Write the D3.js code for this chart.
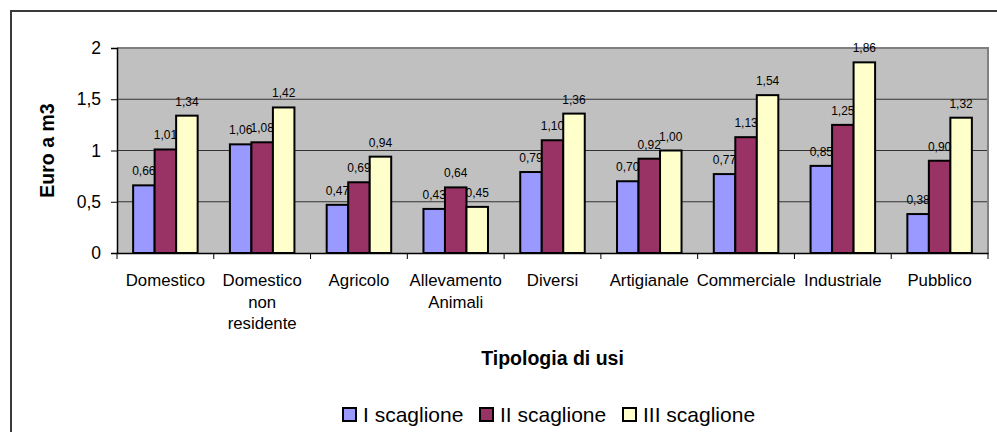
<!DOCTYPE html>
<html>
<head>
<meta charset="utf-8">
<script src="https://cdn.jsdelivr.net/npm/d3@7/dist/d3.min.js"></script>
<style>
  html, body { margin: 0; padding: 0; background: #fff; }
  svg { display: block; font-family: Arial, "Liberation Sans", sans-serif; }
</style>
</head>
<body>
<svg id="chart" width="997" height="432"></svg>
<script>
// Tariffe per tipologia di uso e scaglione (Euro a m3)
const categories = [
  ["Domestico"],
  ["Domestico", "non", "residente"],
  ["Agricolo"],
  ["Allevamento", "Animali"],
  ["Diversi"],
  ["Artigianale"],
  ["Commerciale"],
  ["Industriale"],
  ["Pubblico"]
];
const seriesNames = ["I scaglione", "II scaglione", "III scaglione"];
const scaglione1 = [0.66, 1.06, 0.47, 0.43, 0.79, 0.70, 0.77, 0.85, 0.38];
const scaglione2 = [1.01, 1.08, 0.69, 0.64, 1.10, 0.92, 1.13, 1.25, 0.90];
const scaglione3 = [1.34, 1.42, 0.94, 0.45, 1.36, 1.00, 1.54, 1.86, 1.32];
const yTicks = [0, 0.5, 1, 1.5, 2];
const yTickLabels = ["0", "0,5", "1", "1,5", "2"];
const colors = ["#9999FF", "#993366", "#FFFFCC"];

const series = [scaglione1, scaglione2, scaglione3];
const catKeys = categories.map((c, i) => i);

const svg = d3.select("#chart");
const plot = { left: 117, right: 988, top: 48, bottom: 253 };

// Outer chart frame (left and top edges)
svg.append("path")
  .attr("d", `M11,432 L11,11 L997,11`)
  .attr("fill", "none")
  .attr("stroke", "#3a3a3a")
  .attr("stroke-width", 2);

const x = d3.scaleBand().domain(catKeys).range([plot.left, plot.right]).paddingInner(0).paddingOuter(0);
const y = d3.scaleLinear().domain([0, 2]).range([plot.bottom, plot.top]);
const barW = x.bandwidth() / 4.5;
const xs = d3.scaleBand().domain([0, 1, 2])
  .range([x.bandwidth() * 0.75 / 4.5, x.bandwidth() * 0.75 / 4.5 + barW * 3]);

// Plot background
svg.append("rect")
  .attr("x", plot.left).attr("y", plot.top)
  .attr("width", plot.right - plot.left).attr("height", plot.bottom - plot.top)
  .attr("fill", "#C0C0C0");

// Gridlines
svg.append("g").selectAll("line")
  .data(yTicks.filter(t => t > 0 && t < 2))
  .join("line")
  .attr("x1", plot.left).attr("x2", plot.right)
  .attr("y1", d => y(d)).attr("y2", d => y(d))
  .attr("stroke", "#333").attr("stroke-width", 1);

// Plot border top/right
svg.append("path")
  .attr("d", `M${plot.left},${plot.top} L${plot.right},${plot.top} L${plot.right},${plot.bottom}`)
  .attr("fill", "none").attr("stroke", "#808080").attr("stroke-width", 2);

// Bars
const groups = svg.append("g").selectAll("g")
  .data(series)
  .join("g")
  .attr("fill", (d, i) => colors[i]);

groups.each(function(vals, si) {
  d3.select(this).selectAll("rect")
    .data(vals)
    .join("rect")
    .attr("x", (d, i) => x(i) + xs(si))
    .attr("y", d => y(d))
    .attr("width", barW)
    .attr("height", d => y(0) - y(d))
    .attr("stroke", "#000")
    .attr("stroke-width", 2);
});

// Value labels
const fmt = v => v.toFixed(2).replace(".", ",");
groups.each(function(vals, si) {
  d3.select(this.parentNode).append("g").selectAll("text")
    .data(vals)
    .join("text")
    .attr("x", (d, i) => x(i) + xs(si) + barW / 2)
    .attr("y", d => y(d) - 10)
    .attr("text-anchor", "middle")
    .attr("font-size", 12)
    .attr("fill", "#000")
    .text(fmt);
});

// Y axis
const yAxis = d3.axisLeft(y).tickValues(yTicks).tickSize(6).tickPadding(10)
  .tickFormat((d, i) => yTickLabels[i]);
const gy = svg.append("g").attr("transform", `translate(${plot.left},0)`).call(yAxis);
gy.select(".domain").attr("stroke", "#000").attr("stroke-width", 1.5);
gy.selectAll(".tick line").attr("stroke", "#000");
gy.selectAll(".tick text").attr("font-size", 17.5).attr("fill", "#000")
  .attr("font-family", "Arial, 'Liberation Sans', sans-serif");

// X axis
const xAxis = d3.axisBottom(x).tickSize(0).tickFormat("");
const gx = svg.append("g").attr("transform", `translate(0,${plot.bottom})`).call(xAxis);
gx.select(".domain").attr("stroke", "#000").attr("stroke-width", 1.5);
gx.selectAll(".tick").remove();

// Category boundary ticks
const bounds = catKeys.map(i => x(i)).concat([plot.right]);
svg.append("g").selectAll("line")
  .data(bounds)
  .join("line")
  .attr("x1", d => d).attr("x2", d => d)
  .attr("y1", plot.bottom).attr("y2", plot.bottom + 6)
  .attr("stroke", "#000").attr("stroke-width", 1);

// Category labels
const catLabels = svg.append("g").selectAll("text")
  .data(categories)
  .join("text")
  .attr("x", (d, i) => x(i) + x.bandwidth() / 2)
  .attr("y", 286)
  .attr("text-anchor", "middle")
  .attr("font-size", 16.8)
  .attr("fill", "#000");
catLabels.each(function(lines) {
  d3.select(this).selectAll("tspan")
    .data(lines)
    .join("tspan")
    .attr("x", d3.select(this).attr("x"))
    .attr("dy", (d, j) => j === 0 ? 0 : 21.5)
    .text(d => d);
});

// Axis titles
svg.append("text")
  .attr("x", (plot.left + plot.right) / 2)
  .attr("y", 365)
  .attr("text-anchor", "middle")
  .attr("font-size", 19.5).attr("font-weight", "bold")
  .text("Tipologia di usi");

svg.append("text")
  .attr("transform", `translate(54,${(plot.top + plot.bottom) / 2}) rotate(-90)`)
  .attr("text-anchor", "middle")
  .attr("font-size", 19.5).attr("font-weight", "bold")
  .text("Euro a m3");

// Legend
const legendX = [343, 480, 623];
const legend = svg.append("g").selectAll("g")
  .data(seriesNames)
  .join("g")
  .attr("transform", (d, i) => `translate(${legendX[i]},408)`);
legend.append("rect")
  .attr("width", 13).attr("height", 13)
  .attr("fill", (d, i) => colors[i])
  .attr("stroke", "#000").attr("stroke-width", 2);
legend.append("text")
  .attr("x", 20).attr("y", 14)
  .attr("font-size", 21)
  .attr("fill", "#000")
  .text(d => d);
</script>
</body>
</html>
